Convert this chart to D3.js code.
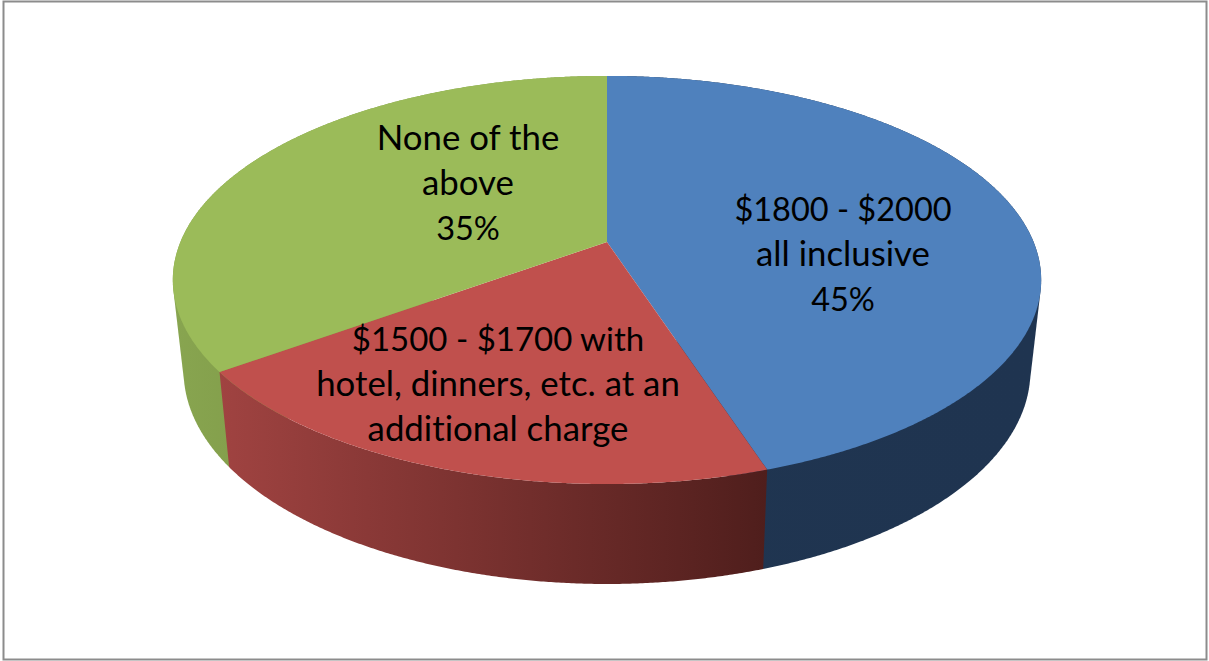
<!DOCTYPE html>
<html><head><meta charset="utf-8">
<script src="https://cdnjs.cloudflare.com/ajax/libs/d3/7.8.5/d3.min.js"></script>
<style>html,body{margin:0;padding:0;background:#fff;overflow:hidden}svg{display:block}</style>
</head><body><svg id="c" width="1209" height="661"></svg>
<script>
const categories = ["$1800 - $2000 all inclusive", "$1500 - $1700 with hotel, dinners, etc. at an additional charge", "None of the above"];
const values = [45, 20, 35];
const labelLines = [["$1800 - $2000", "all inclusive"], ["$1500 - $1700 with", "hotel, dinners, etc. at an", "additional charge"], ["None of the", "above"]];
const showPercent = [true, false, true];
const topColors = ["#4f81bd", "#c0504d", "#9bbb59"];
const sideStart = ["#203651", "#a04341", "#88a550"];
const sideEnd = ["#1f3450", "#4f1e1c", "#84a04c"];

const svg = d3.select("#c");
const K = 0.186;
svg.append("rect").attr("x",3.5).attr("y",1.5).attr("width",1203).attr("height",658)
  .attr("fill","#fff").attr("stroke","#8c8c8c").attr("stroke-width",2);

// perspective projection of the pie's disc (top face and bottom rim)
const topFace = {cx:607, cy:242, a:426.6, b:197};
const botFace = {cx:607, cy:331.4, a:416, b:205.6};
function project(f, theta, r){
  const u = r*Math.sin(theta), v = -r*Math.cos(theta), w = 1 - K*v;
  return [f.cx + f.a*u/w, f.cy + f.b*v/w];
}
const arcs = d3.pie().sort(null).value(d=>d)(values);
const defs = svg.append("defs");
const line = d3.line();
function rim(f,a0,a1){
  const n = Math.max(8, Math.ceil((a1-a0)/0.005));
  return d3.range(n+1).map(i=>project(f,a0+(a1-a0)*i/n,1));
}
arcs.forEach((d,i)=>{
  const g = defs.append("linearGradient").attr("id","s"+i).attr("gradientUnits","userSpaceOnUse")
    .attr("x1",i===1?219:172).attr("x2",i===1?767:(i===0?1042:230)).attr("y1",0).attr("y2",0);
  g.append("stop").attr("offset",0).attr("stop-color",sideStart[i]);
  g.append("stop").attr("offset",1).attr("stop-color",sideEnd[i]);
});
const gSide = svg.append("g");
[0,2,1].forEach(i=>{   // painter order: red wall nearest the viewer
  const d = arcs[i];
  const t = rim(topFace,d.startAngle,d.endAngle), b = rim(botFace,d.startAngle,d.endAngle);
  const pts = i===1 ? t.concat(b.slice().reverse()) : d3.polygonHull(t.concat(b));
  gSide.append("path").attr("d", line(pts)+"Z").attr("fill",`url(#s${i})`);
});
const gTop = svg.append("g");
arcs.forEach((d,i)=>{
  gTop.append("path").attr("d", line([project(topFace,0,0), ...rim(topFace,d.startAngle,d.endAngle)])+"Z").attr("fill",topColors[i]);
});

const total = d3.sum(values);
const labelPos = [[843,220.5],[498,351.3],[468,150]];
const gT = svg.append("g").attr("font-family","Lato, 'Open Sans', sans-serif").attr("fill","#000")
  .attr("text-anchor","middle").style("font-variant-ligatures","none");
const sizeFor = s => /^[$0-9 \-%]+$/.test(s) ? 32.5 : (/\$/.test(s) ? 33 : 34.8);
arcs.forEach((d,i)=>{
  const lines = labelLines[i].slice();
  if(showPercent[i]) lines.push(d3.format(".0%")(values[i]/total));
  lines.forEach((s,j)=>gT.append("text").attr("x",labelPos[i][0]).attr("y",labelPos[i][1]+j*45)
    .attr("font-size",sizeFor(s)).text(s));
});
</script></body></html>
